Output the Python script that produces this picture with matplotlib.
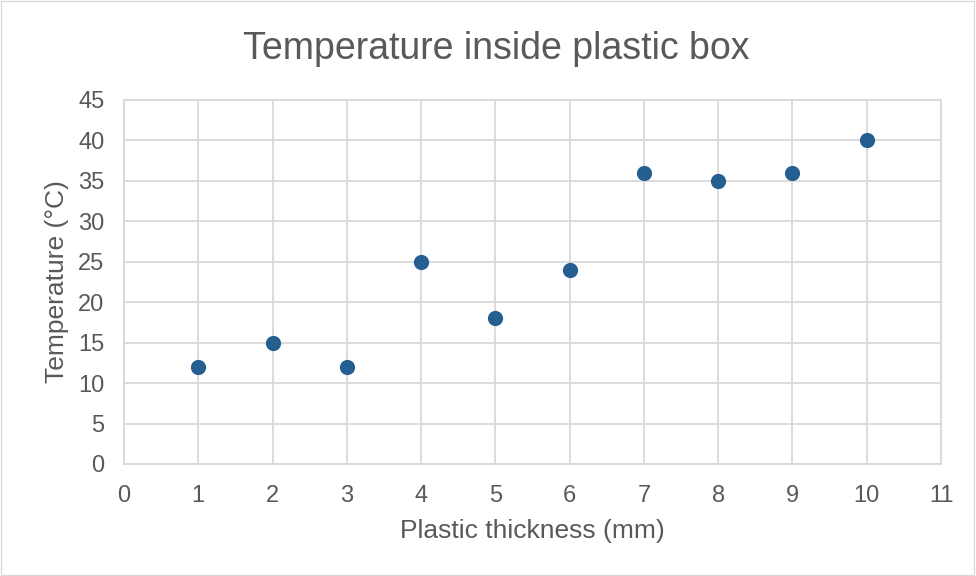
import matplotlib
matplotlib.use("Agg")
from matplotlib import pyplot as plt
import numpy as np

# data
thickness = [1, 2, 3, 4, 5, 6, 7, 8, 9, 10]
temperature = [12, 15, 12, 25, 18, 24, 36, 35, 36, 40]
x_ticks = np.arange(0, 12, 1)
y_ticks = np.arange(0, 50, 5)

plt.rcParams['font.family'] = ['Liberation Sans', 'DejaVu Sans']
text_color = '#595959'
grid_color = '#D9D9D9'

fig = plt.figure(figsize=(9.76, 5.76), dpi=100)
ax = fig.add_axes([124/976, 1 - 464/576, (941 - 124)/976, (464 - 100)/576])

ax.scatter(thickness, temperature, s=120, color='#255E91', zorder=3, linewidths=0)

ax.set_xlim(0, 11)
ax.set_ylim(0, 45)
ax.set_xticks(x_ticks)
ax.set_yticks(y_ticks)
ax.grid(True, color=grid_color, lw=1.3)
ax.set_axisbelow(True)
for s in ax.spines.values():
    s.set_color(grid_color)
    s.set_linewidth(1.3)
ax.tick_params(length=0, labelsize=17, colors=text_color)
ax.tick_params(axis='y', pad=14)
ax.tick_params(axis='x', pad=15)

ax.set_xlabel('Plastic thickness (mm)', fontsize=19, color=text_color, labelpad=9)
ax.set_ylabel('Temperature (°C)', fontsize=19, color=text_color, labelpad=7)
fig.suptitle('Temperature inside plastic box', fontsize=27, color=text_color, y=0.947, x=0.508)

# light outer border like the chart frame
fig.patches.append(plt.Rectangle((0.001, 0.001), 0.997, 0.997, transform=fig.transFigure,
                                 fill=False, edgecolor=grid_color, lw=1))

fig.savefig('out.png', dpi=100)
